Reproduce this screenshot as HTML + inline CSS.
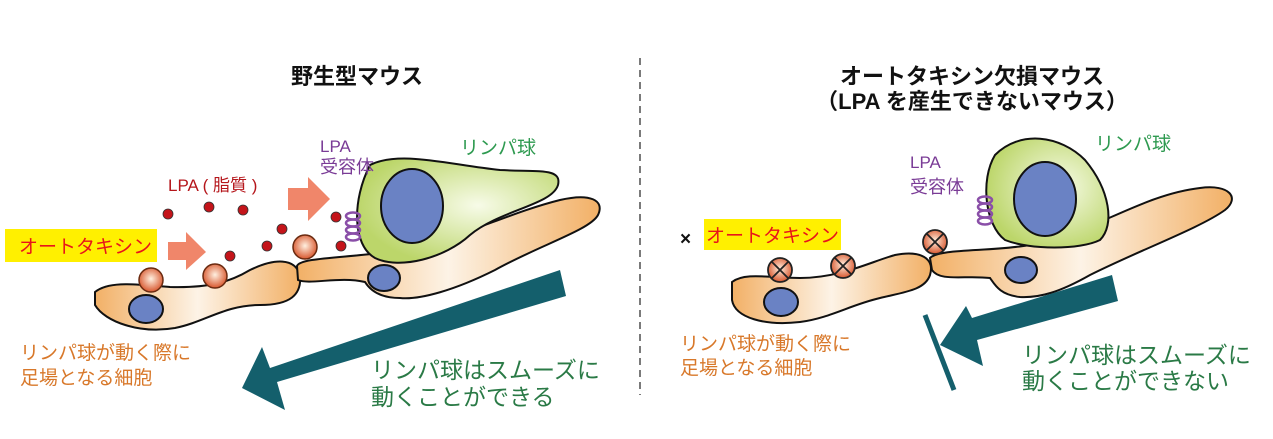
<!DOCTYPE html>
<html><head><meta charset="utf-8"><style>
html,body{margin:0;padding:0;background:#fff;}
svg{display:block;}
text{font-family:"Liberation Sans","Noto Sans CJK JP",sans-serif;}
</style></head><body>
<svg width="1273" height="439" viewBox="0 0 1273 439" xmlns="http://www.w3.org/2000/svg">
<defs>
<linearGradient id="og" x1="0" x2="1" y1="0" y2="0">
<stop offset="0" stop-color="#f2b066"/><stop offset="0.5" stop-color="#fdf3e6"/><stop offset="1" stop-color="#f2b066"/></linearGradient>
<radialGradient id="gg" cx="0.6" cy="0.45" r="0.6"><stop offset="0" stop-color="#f7fbe8"/><stop offset="1" stop-color="#bcd66a"/></radialGradient>
<radialGradient id="rb" cx="0.5" cy="0.45" r="0.55"><stop offset="0" stop-color="#fff0e0"/><stop offset="1" stop-color="#d8572e"/></radialGradient>
<g id="spr" fill="none" stroke="#8a4fa8" stroke-width="2.5">
<ellipse cx="0" cy="-10" rx="7" ry="3.5"/><ellipse cx="0" cy="-3" rx="7" ry="3.5"/><ellipse cx="0" cy="4" rx="7" ry="3.5"/><ellipse cx="0" cy="11" rx="7" ry="3.5"/></g>
</defs>

<text x="357" y="84" font-size="22" font-weight="bold" text-anchor="middle" fill="#111">野生型マウス</text>
<text x="972" y="84" font-size="22" font-weight="bold" text-anchor="middle" fill="#111">オートタキシン欠損マウス</text>
<text x="972" y="109" font-size="22" font-weight="bold" text-anchor="middle" fill="#111">（LPA を産生できないマウス）</text>
<line x1="640" y1="58" x2="640" y2="395" stroke="#333" stroke-width="1.3" stroke-dasharray="7,5"/>

<!-- LEFT PANEL -->
<path d="M95 292 C110 280 140 285 170 287 C210 288 230 282 250 270 C275 258 295 258 300 275 C302 295 290 305 260 305 C225 305 205 322 175 328 C140 334 105 322 95 305 Z" fill="url(#og)" stroke="#111" stroke-width="2"/>
<path d="M297 266 C300 258 340 258 380 253 C450 245 500 215 560 200 C590 193 605 200 598 215 C590 230 540 245 495 270 C455 290 420 300 400 298 C380 298 370 290 365 282 C340 276 310 285 298 280 Z" fill="url(#og)" stroke="#111" stroke-width="2"/>
<path d="M370 165 C400 150 450 165 500 170 C540 172 562 168 558 185 C552 205 500 210 470 235 C445 258 400 270 375 258 C352 245 352 200 370 165 Z" fill="url(#gg)" stroke="#111" stroke-width="2"/>
<ellipse cx="412" cy="206" rx="31" ry="37" fill="#6a82c4" stroke="#111" stroke-width="2"/>
<ellipse cx="146" cy="309" rx="17" ry="14" fill="#6a82c4" stroke="#111" stroke-width="2"/>
<ellipse cx="384" cy="278" rx="16" ry="13" fill="#6a82c4" stroke="#111" stroke-width="2"/>
<use href="#spr" x="353" y="226"/>
<circle cx="151" cy="280" r="12" fill="url(#rb)" stroke="#6a2a10" stroke-width="1.5"/>
<circle cx="215" cy="276" r="12" fill="url(#rb)" stroke="#6a2a10" stroke-width="1.5"/>
<circle cx="305" cy="247" r="12" fill="url(#rb)" stroke="#6a2a10" stroke-width="1.5"/>
<g fill="#c4141a" stroke="#333" stroke-width="0.8">
<circle cx="168" cy="214" r="5"/><circle cx="209" cy="207" r="5"/><circle cx="243" cy="210" r="5"/><circle cx="336" cy="217" r="5"/>
<circle cx="282" cy="229" r="5"/><circle cx="267" cy="246" r="5"/><circle cx="230" cy="256" r="5"/><circle cx="341" cy="246" r="5"/></g>
<path d="M168 242 L186 242 L186 232 L206 252 L186 270 L186 260 L168 260 Z" fill="#f0866a"/>
<path d="M288 188 L308 188 L308 177 L330 199 L308 221 L308 210 L288 210 Z" fill="#f0866a"/>
<text x="168" y="191" font-size="17" fill="#b5161b">LPA ( 脂質 )</text>
<text x="320" y="152" font-size="17" fill="#7a3b96">LPA</text>
<text x="320" y="173" font-size="18" fill="#7a3b96">受容体</text>
<text x="460" y="154" font-size="19" fill="#2e9a50">リンパ球</text>
<rect x="5" y="229" width="152" height="33" fill="#fff000"/>
<text x="19" y="253" font-size="19" fill="#e8141a">オートタキシン</text>
<text x="20" y="359" font-size="19" fill="#d8782a">リンパ球が動く際に</text>
<text x="20" y="384" font-size="19" fill="#d8782a">足場となる細胞</text>
<path d="M560 270 L566 296 L277 382 L285 410 L242 388 L262 347 L270 368 Z" fill="#145f6c"/>
<text x="371" y="378" font-size="23" fill="#2a7a46">リンパ球はスムーズに</text>
<text x="371" y="405" font-size="23" fill="#2a7a46">動くことができる</text>

<!-- RIGHT PANEL -->
<path d="M732 282 C745 272 770 278 800 278 C840 278 870 262 895 255 C920 250 935 258 930 275 C925 290 905 292 880 298 C850 305 830 318 800 322 C765 326 735 318 732 300 Z" fill="url(#og)" stroke="#111" stroke-width="2"/>
<path d="M930 258 C940 248 990 252 1030 245 C1090 235 1140 195 1200 188 C1230 184 1240 198 1225 210 C1200 228 1140 250 1090 275 C1060 292 1040 298 1020 297 C1000 295 995 285 990 278 C965 275 940 282 932 270 Z" fill="url(#og)" stroke="#111" stroke-width="2"/>
<path d="M995 155 C1020 130 1060 135 1085 160 C1110 190 1115 225 1100 240 C1080 250 1030 250 1005 240 C985 225 980 180 995 155 Z" fill="url(#gg)" stroke="#111" stroke-width="2"/>
<ellipse cx="1045" cy="199" rx="31" ry="37" fill="#6a82c4" stroke="#111" stroke-width="2"/>
<ellipse cx="781" cy="302" rx="17" ry="14" fill="#6a82c4" stroke="#111" stroke-width="2"/>
<ellipse cx="1021" cy="270" rx="16" ry="13" fill="#6a82c4" stroke="#111" stroke-width="2"/>
<use href="#spr" x="985" y="210"/>
<g stroke="#222" stroke-width="1.8">
<circle cx="780" cy="270" r="12" fill="url(#rb)"/><path d="M772 262 L788 278 M788 262 L772 278"/>
<circle cx="843" cy="266" r="12" fill="url(#rb)"/><path d="M835 258 L851 274 M851 258 L835 274"/>
<circle cx="935" cy="242" r="12" fill="url(#rb)"/><path d="M927 234 L943 250 M943 234 L927 250"/></g>
<text x="910" y="168" font-size="17" fill="#7a3b96">LPA</text>
<text x="910" y="193" font-size="18" fill="#7a3b96">受容体</text>
<text x="1095" y="150" font-size="19" fill="#2e9a50">リンパ球</text>
<text x="680" y="245" font-size="19" font-weight="bold" fill="#111">×</text>
<rect x="704" y="219" width="137" height="31" fill="#fff000"/>
<text x="706" y="242" font-size="19" fill="#e8141a">オートタキシン</text>
<text x="680" y="350" font-size="19" fill="#d8782a">リンパ球が動く際に</text>
<text x="680" y="374" font-size="19" fill="#d8782a">足場となる細胞</text>
<path d="M1112 275 L1118 301 L977 340 L983 366 L940 345 L966 306 L972 318 Z" fill="#145f6c"/>
<line x1="925" y1="315" x2="954" y2="390" stroke="#145f6c" stroke-width="5"/>
<text x="1022" y="363" font-size="23" fill="#2a7a46">リンパ球はスムーズに</text>
<text x="1022" y="389" font-size="23" fill="#2a7a46">動くことができない</text>
</svg>
</body></html>
